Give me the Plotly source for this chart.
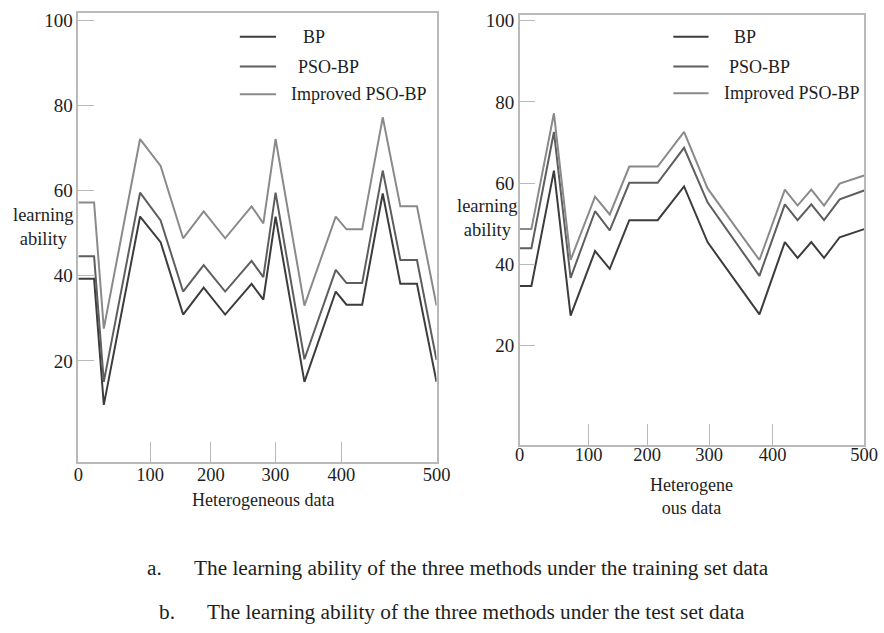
import plotly.graph_objects as go

W, H = 884, 633

# ---------------- data ----------------
series_names = ["BP", "PSO-BP", "Improved PSO-BP"]

train_x = [0, 21.9, 35.5, 86.1, 114.8, 146.2, 174.9, 204.9, 241.8, 258.2,
           275.3, 315.6, 359.3, 374.3, 396.2, 424.9, 449.5, 472.7, 500]
train_bp = [39.3, 39.3, 9.7, 53.9, 47.9, 30.9, 37.2, 30.9, 38.1, 34.4,
            53.9, 15.1, 36.3, 33.2, 33.2, 59.3, 38.1, 38.1, 15.1]
train_pso = [44.6, 44.6, 15.1, 59.5, 53.0, 36.3, 42.5, 36.3, 43.5, 39.7,
             59.5, 20.4, 41.4, 38.3, 38.3, 64.7, 43.7, 43.7, 20.2]
train_imp = [57.2, 57.2, 27.6, 72.1, 65.8, 48.8, 55.1, 48.8, 56.3, 52.3,
             72.1, 33.0, 53.9, 50.9, 50.9, 77.2, 56.3, 56.3, 33.0]

test_x = [0, 17.0, 49.7, 73.9, 109.4, 130.7, 159.1, 200.3, 238.6, 272.7,
          348.0, 384.9, 403.4, 423.3, 441.8, 464.5, 500]
test_bp = [34.7, 34.7, 63.1, 27.4, 43.3, 38.9, 50.9, 50.9, 59.2, 45.5,
           27.7, 45.5, 41.6, 45.5, 41.6, 46.7, 48.7]
test_pso = [44.0, 44.0, 72.6, 36.7, 53.1, 48.4, 60.1, 60.1, 68.7, 55.3,
            37.2, 54.8, 50.9, 54.8, 50.9, 56.0, 58.2]
test_imp = [48.7, 48.7, 77.2, 41.1, 56.7, 52.3, 64.1, 64.1, 72.6, 58.7,
            41.1, 58.4, 54.5, 58.4, 54.5, 59.9, 61.9]

x_tick_text = ["0", "100", "200", "300", "400", "500"]
y_tick_vals = [20, 40, 60, 80, 100]

y_title = "learning<br>ability"
x_title_a = "Heterogeneous data"
x_title_b = "Heterogene<br>ous data"
caption_a = "The learning ability of the three methods under the training set data"
caption_b = "The learning ability of the three methods under the test set data"

# ---------------- styling / layout ----------------
x_tick_pos = [0, 100, 185, 275, 367, 500]   # where the labels sit on the original (non-uniform) axis
colors = ["#3c3c3c", "#5e5e5e", "#8a8a8a"]
FONT = "Liberation Serif"
TXT = "#1e1e1e"
GRID = "#b9b9b9"


def px_x(p):
    return p / W


def px_y(p):
    return 1 - p / H


fig = go.Figure()

panels = [
    (train_x, [train_bp, train_pso, train_imp], "x", "y"),
    (test_x, [test_bp, test_pso, test_imp], "x2", "y2"),
]
for xs, ys_list, xa, ya in panels:
    for i, (name, ys) in enumerate(zip(series_names, ys_list)):
        fig.add_trace(go.Scatter(
            x=xs, y=ys, mode="lines", name=name,
            line=dict(color=colors[i], width=2),
            xaxis=xa, yaxis=ya, hoverinfo="skip", showlegend=False,
        ))

axis_common = dict(
    showline=True, mirror=True, linecolor=GRID, linewidth=1.5,
    showgrid=False, zeroline=False, ticks="inside", tickcolor=GRID,
    tickwidth=1.2, fixedrange=True,
)
xfont = dict(family=FONT, size=18.5, color=TXT)
yfont = dict(family=FONT, size=19, color=TXT)

fig.update_layout(
    width=W, height=H,
    margin=dict(l=0, r=0, t=0, b=0),
    paper_bgcolor="white", plot_bgcolor="white",
    font=dict(family=FONT, color=TXT, size=18),
    showlegend=False,
    xaxis=dict(domain=[px_x(75), px_x(441)], range=[0, 500], anchor="y",
               tickvals=x_tick_pos, ticktext=x_tick_text, ticklen=21,
               tickfont=xfont, ticklabelstandoff=-5, **axis_common),
    yaxis=dict(domain=[px_y(461), px_y(8)], range=[-3.8, 101.7], anchor="x",
               tickvals=y_tick_vals, ticklen=16, tickfont=yfont, **axis_common),
    xaxis2=dict(domain=[px_x(526), px_x(878)], range=[0, 500], anchor="y2",
                tickvals=x_tick_pos, ticktext=x_tick_text, ticklen=21,
                tickfont=xfont, ticklabelstandoff=-7, **axis_common),
    yaxis2=dict(domain=[px_y(443), px_y(10)], range=[-4.3, 101.4], anchor="x2",
                tickvals=y_tick_vals, ticklen=16, tickfont=yfont, **axis_common),
)

ann = dict(xref="paper", yref="paper", showarrow=False)

# legends (drawn as key lines + labels inside each panel)
legend_specs = [
    # (line x0, line x1, row y centres, label x starts)
    (240, 277, [32, 62, 90], [302, 297, 290]),
    (683, 719, [32, 62, 89], [743, 738, 733]),
]
for lx0, lx1, rows, tx in legend_specs:
    for i, name in enumerate(series_names):
        fig.add_shape(type="line", xref="paper", yref="paper",
                      x0=px_x(lx0), x1=px_x(lx1), y0=px_y(rows[i]), y1=px_y(rows[i]),
                      line=dict(color=colors[i], width=2))
        fig.add_annotation(text=name, x=px_x(tx[i]), y=px_y(rows[i]),
                           xanchor="left", yanchor="middle",
                           font=dict(family=FONT, size=18, color=TXT), **ann)

tfont = dict(family=FONT, size=18.5, color=TXT)
fig.add_annotation(text=y_title, x=px_x(39), y=px_y(224), xanchor="center", yanchor="middle", font=tfont, **ann)
fig.add_annotation(text=y_title, x=px_x(493), y=px_y(215), xanchor="center", yanchor="middle", font=tfont, **ann)
fig.add_annotation(text=x_title_a, x=px_x(264), y=px_y(499), xanchor="center", yanchor="middle",
                   font=dict(family=FONT, size=18, color=TXT), **ann)
fig.add_annotation(text=x_title_b, x=px_x(702), y=px_y(495), xanchor="center", yanchor="middle",
                   font=dict(family=FONT, size=18, color=TXT), **ann)

cfont = dict(family=FONT, size=21.3, color=TXT)
fig.add_annotation(text="a.", x=px_x(153), y=px_y(567), xanchor="center", yanchor="middle", font=cfont, **ann)
fig.add_annotation(text=caption_a, x=px_x(191), y=px_y(567), xanchor="left", yanchor="middle", font=cfont, **ann)
fig.add_annotation(text="b.", x=px_x(166), y=px_y(612), xanchor="center", yanchor="middle", font=cfont, **ann)
fig.add_annotation(text=caption_b, x=px_x(204), y=px_y(612), xanchor="left", yanchor="middle", font=cfont, **ann)

fig.write_html("out.html")
